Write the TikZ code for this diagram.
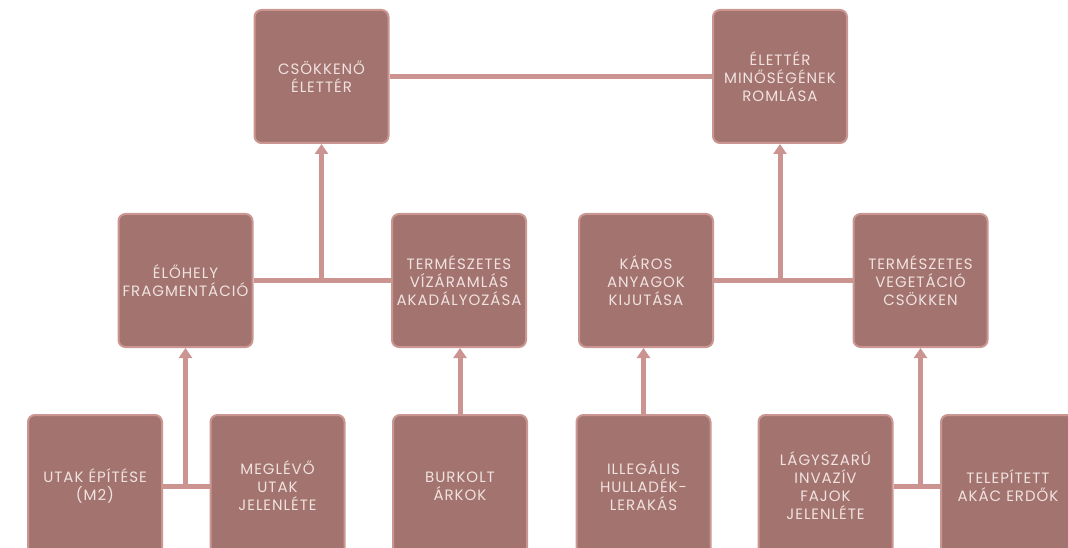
\documentclass[tikz,border=0pt]{standalone}
\usepackage{fontspec}
\setmainfont{Poppins}[LetterSpace=6.5]
\usetikzlibrary{arrows.meta}

\definecolor{boxfill}{RGB}{163,116,111}
\definecolor{boxedge}{RGB}{203,150,146}
\definecolor{boxtext}{RGB}{240,226,224}
\definecolor{linkcol}{RGB}{204,148,144}

\begin{document}
\begin{tikzpicture}[x=1pt, y=-1pt,
  every node/.style={font=\fontsize{15}{18}\selectfont},
  factor/.style={rectangle, rounded corners=7pt, fill=boxfill, draw=boxedge, line width=2pt,
    minimum width=134pt, minimum height=133pt, text width=132pt, align=center,
    text=boxtext, inner sep=0pt},
  source/.style={factor, minimum height=142pt},
  link/.style={draw=linkcol, line width=5pt},
  effect/.style={link, -{Triangle[width=13pt,length=10pt]}}]

\useasboundingbox (0,0) rectangle (1068,548);
\clip (0,0) rectangle (1068,548);

% Top row: consequences
\node[factor] (loss) at (321.5,76.5) {CSÖKKENŐ\\ÉLETTÉR};
\node[factor] (quality) at (780,76.5) {ÉLETTÉR\\MINŐSÉGÉNEK\\ROMLÁSA};

% Middle row: processes
\node[factor] (frag) at (185.5,280.5) {ÉLŐHELY\\FRAGMENTÁCIÓ};
\node[factor] (water) at (459,280.5) {TERMÉSZETES\\VÍZÁRAMLÁS\\AKADÁLYOZÁSA};
\node[factor] (toxic) at (646,280.5) {KÁROS\\ANYAGOK\\KIJUTÁSA};
\node[factor] (veget) at (920.5,280.5) {TERMÉSZETES\\VEGETÁCIÓ\\CSÖKKEN};

% Bottom row: sources (cut by the page edge)
\node[source] (newroad) at (95,486) {UTAK ÉPÍTÉSE\\(M2)};
\node[source] (oldroad) at (277.5,486) {MEGLÉVŐ\\UTAK\\JELENLÉTE};
\node[source] (ditch) at (460,486) {BURKOLT\\ÁRKOK};
\node[source] (dump) at (643.5,486) {ILLEGÁLIS\\HULLADÉK-\\LERAKÁS};
\node[source] (herb) at (825.5,486) {LÁGYSZARÚ\\INVAZÍV\\FAJOK\\JELENLÉTE};
\node[source] (acacia) at (1008,486) {TELEPÍTETT\\AKÁC ERDŐK};

% Top link
\draw[link] (loss) -- (quality);

% Middle pairs into the top row
\draw[link] (frag) -- (water);
\draw[effect] (frag.east -| loss) -- (loss);
\draw[link] (toxic) -- (veget);
\draw[effect] (toxic.east -| quality) -- (quality);

% Bottom row into the middle row
\draw[link] (newroad) -- (oldroad);
\draw[effect] (newroad.east -| frag) -- (frag);
\draw[effect] (ditch.north) -- (ditch.north |- water.south);
\draw[effect] (dump.north) -- (dump.north |- toxic.south);
\draw[link] (herb) -- (acacia);
\draw[effect] (herb.east -| veget) -- (veget);

\end{tikzpicture}
\end{document}
